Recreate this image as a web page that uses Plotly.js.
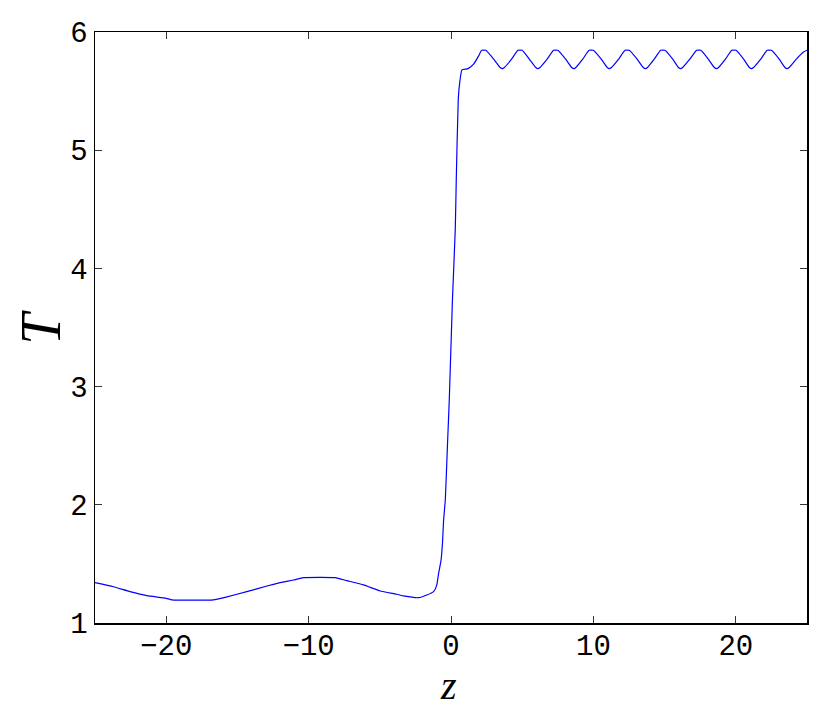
<!DOCTYPE html>
<html>
<head>
<meta charset="utf-8">
<script src="https://cdn.plot.ly/plotly-3.0.1.min.js"></script>
<style>html,body{margin:0;padding:0;background:#fff;}#chart{width:830px;height:716px;}</style>
</head>
<body>
<div id="chart"></div>
<script>
// z positions and temperature T
const zValues = [
  -25, -23.71, -22.54, -21.36, -20, -19.6, -16.68, -15.86, -14.34, -12.93, -12, -11.06, -10.36,
  -8.13, -7.31, -6.14, -4.97, -3.8, -3.33, -2.28, -1.69, -1.22, -1.0, -0.87, -0.7, -0.6, -0.52,
  -0.4, -0.25, -0.12, 0.1, 0.3, 0.37, 0.51, 0.62, 0.77, 1.2, 1.6, 1.95,
  2.15, 2.45, 3.0, 3.45, 3.6, 3.75, 4.25,
  4.7, 5.0, 5.5, 5.95, 6.1, 6.25, 6.75,
  7.2, 7.5, 8.05, 8.47, 8.62, 8.77, 9.25,
  9.7, 10.0, 10.55, 10.97, 11.12, 11.27, 11.77,
  12.22, 12.52, 13.07, 13.5, 13.65, 13.8, 14.27,
  14.72, 15.02, 15.57, 15.97, 16.12, 16.27, 16.77,
  17.25, 17.55, 18.07, 18.49, 18.64, 18.79, 19.27,
  19.72, 20.02, 20.55, 20.95, 21.1, 21.25, 21.75,
  22.2, 22.5, 23.05, 23.45, 23.6, 23.75, 24.25, 24.75, 25
];
const tValues = [
  1.341, 1.307, 1.265, 1.231, 1.209, 1.196, 1.196, 1.217, 1.265, 1.313, 1.341, 1.364, 1.384,
  1.384, 1.358, 1.322, 1.271, 1.243, 1.229, 1.214, 1.237, 1.265, 1.32, 1.42, 1.53, 1.675, 1.87,
  2.04, 2.5, 2.89, 3.73, 4.33, 4.75, 5.43, 5.58, 5.68, 5.69, 5.73, 5.80,
  5.845, 5.845, 5.77, 5.70, 5.69, 5.70, 5.77,
  5.845, 5.845, 5.77, 5.70, 5.69, 5.70, 5.77,
  5.845, 5.845, 5.77, 5.70, 5.69, 5.70, 5.77,
  5.845, 5.845, 5.77, 5.70, 5.69, 5.70, 5.77,
  5.845, 5.845, 5.77, 5.70, 5.69, 5.70, 5.77,
  5.845, 5.845, 5.77, 5.70, 5.69, 5.70, 5.77,
  5.845, 5.845, 5.77, 5.70, 5.69, 5.70, 5.77,
  5.845, 5.845, 5.77, 5.70, 5.69, 5.70, 5.77,
  5.845, 5.845, 5.77, 5.70, 5.69, 5.70, 5.77, 5.83, 5.846
];
const xTickVals = [-20, -10, 0, 10, 20];
const xTickText = ['\u221220', '\u221210', '0', '10', '20'];
const yTickVals = [1, 2, 3, 4, 5, 6];
const yTickText = ['1', '2', '3', '4', '5', '6'];
const xLabel = 'z';
const yLabel = 'T';

const trace = {
  x: zValues, y: tValues, type: 'scatter', mode: 'lines',
  line: {color: '#0000ff', width: 1.2, shape: 'spline', smoothing: 0.4},
  hoverinfo: 'none'
};
const tickFont = {family: 'Liberation Mono, DejaVu Sans Mono, monospace', size: 29, color: '#000'};
const serif = 'Liberation Serif, DejaVu Serif, serif';
const layout = {
  width: 830, height: 716,
  margin: {l: 95, r: 23, t: 32, b: 93},
  paper_bgcolor: '#fff', plot_bgcolor: '#fff',
  showlegend: false,
  xaxis: {
    range: [-25, 25], tickvals: xTickVals, ticktext: xTickText,
    ticks: 'inside', ticklen: 7, tickwidth: 1, tickcolor: '#333',
    showline: true, linecolor: '#000', linewidth: 1.5, mirror: 'ticks',
    showgrid: false, zeroline: false, tickfont: tickFont, ticklabelstandoff: -4
  },
  yaxis: {
    range: [1, 6], tickvals: yTickVals, ticktext: yTickText,
    ticks: 'inside', ticklen: 7, tickwidth: 1, tickcolor: '#333',
    showline: true, linecolor: '#000', linewidth: 1.5, mirror: 'ticks',
    showgrid: false, zeroline: false, tickfont: tickFont
  },
  annotations: [
    {text: '<i>' + xLabel + '</i>', xref: 'paper', yref: 'paper', x: 0.497, y: -0.105,
     xanchor: 'center', yanchor: 'middle', showarrow: false,
     font: {family: serif, size: 40, color: '#000'}},
    {text: '<i>' + yLabel + '</i>', xref: 'paper', yref: 'paper', x: -0.077, y: 0.5,
     xanchor: 'center', yanchor: 'middle', showarrow: false, textangle: -90,
     font: {family: serif, size: 56, color: '#000'}}
  ]
};
Plotly.newPlot('chart', [trace], layout, {displayModeBar: false, staticPlot: true});
</script>
</body>
</html>
